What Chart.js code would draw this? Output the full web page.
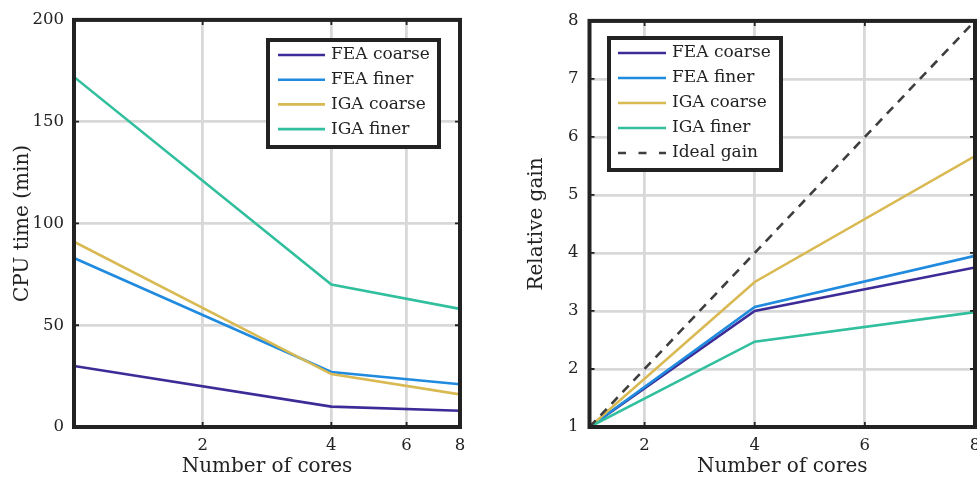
<!DOCTYPE html>
<html><head><meta charset="utf-8">
<script src="https://cdn.jsdelivr.net/npm/chart.js@4.4.1/dist/chart.umd.min.js"></script>
<style>
html,body{margin:0;padding:0;background:#fff;overflow:hidden;width:977px;height:481px;}
#w1{position:absolute;left:0;top:0;width:490px;height:481px;}
#w2{position:absolute;left:490px;top:0;width:510px;height:481px;}
</style></head><body>
<div id="w1"><canvas id="c1"></canvas></div>
<div id="w2"><canvas id="c2"></canvas></div>
<script>
// ---- data ----
const cores = [1, 4, 8];
const cpuFeaCoarse = [30, 10, 8];
const cpuFeaFiner = [83, 27, 21];
const cpuIgaCoarse = [91, 26, 16];
const cpuIgaFiner = [172, 70, 58];
const gainFeaCoarse = [1, 3.0, 3.75];
const gainFeaFiner = [1, 3.07, 3.95];
const gainIgaCoarse = [1, 3.5, 5.67];
const gainIgaFiner = [1, 2.47, 2.98];
const gainIdeal = [1, 4, 8];
const seriesLabels = ['FEA coarse', 'FEA finer', 'IGA coarse', 'IGA finer'];
const idealLabel = 'Ideal gain';
const coreTicks = [2, 4, 6, 8];
const cpuTicks = [0, 50, 100, 150, 200];
const gainTicks = [1, 2, 3, 4, 5, 6, 7, 8];

// ---- styles ----
const colors = ['#3d2b97', '#1f8ade', '#d8b952', '#31bf9e'];
const idealColor = '#3e3e3e';
const ink = '#222222';
const FONT = 'DejaVu Serif';
const gridColor = '#d8d8d8';

function pts(xs, ys) { return xs.map((x, i) => ({x: x, y: ys[i]})); }
function mkDs(label, ys, color, i, n) {
  return {label: label, data: pts(cores, ys), borderColor: color, borderWidth: 2.6,
    pointRadius: 0, tension: 0, fill: false, order: n - i};
}

const axesBox = {
  id: 'axesBox',
  afterDatasetsDraw(chart, args, o) {
    const ctx = chart.ctx;
    const {left, top, right, bottom} = chart.chartArea;
    const xs = chart.scales.x, ys = chart.scales.y;
    ctx.save();
    ctx.strokeStyle = ink; ctx.lineWidth = 1.8;
    const L = 5;
    ctx.beginPath();
    xs.ticks.forEach(t => { const p = xs.getPixelForValue(t.value);
      ctx.moveTo(p, bottom); ctx.lineTo(p, bottom - L); ctx.moveTo(p, top); ctx.lineTo(p, top + L); });
    ys.ticks.forEach(t => { const p = ys.getPixelForValue(t.value);
      ctx.moveTo(left, p); ctx.lineTo(left + L, p); ctx.moveTo(right, p); ctx.lineTo(right - L, p); });
    ctx.stroke();
    ctx.lineWidth = 4;
    ctx.strokeRect(left, top, right - left, bottom - top);
    ctx.restore();
  }
};

const boxLegend = {
  id: 'boxLegend',
  afterDraw(chart, args, o) {
    const ctx = chart.ctx;
    ctx.save();
    ctx.fillStyle = '#fff';
    ctx.fillRect(o.x, o.y, o.w, o.h);
    ctx.strokeStyle = ink; ctx.lineWidth = 4;
    ctx.strokeRect(o.x, o.y, o.w, o.h);
    chart.data.datasets.forEach((ds, i) => {
      const cy = o.y + o.first + i * o.rowH;
      ctx.strokeStyle = ds.borderColor; ctx.lineWidth = ds.borderWidth;
      ctx.setLineDash(ds.legendDash || []);
      ctx.beginPath();
      ctx.moveTo(o.x + o.lineStart, cy); ctx.lineTo(o.x + o.lineStart + o.lineLen, cy);
      ctx.stroke();
      ctx.setLineDash([]);
      ctx.fillStyle = ink;
      ctx.font = '17px "' + FONT + '"';
      ctx.textBaseline = 'middle'; ctx.textAlign = 'left';
      ctx.fillText(ds.label, o.x + o.textStart, cy);
    });
    ctx.restore();
  }
};

function tickFont() { return {family: FONT, size: 16.5}; }
function titleFont() { return {family: FONT, size: 20, lineHeight: 1.2}; }

// ---- left chart: CPU time ----
const n1 = 4;
new Chart(document.getElementById('c1'), {
  type: 'line',
  data: {datasets: [
    mkDs(seriesLabels[0], cpuFeaCoarse, colors[0], 0, n1),
    mkDs(seriesLabels[1], cpuFeaFiner, colors[1], 1, n1),
    mkDs(seriesLabels[2], cpuIgaCoarse, colors[2], 2, n1),
    mkDs(seriesLabels[3], cpuIgaFiner, colors[3], 3, n1)
  ]},
  options: {
    responsive: true, maintainAspectRatio: false, animation: false, devicePixelRatio: 1,
    layout: {padding: {left: 0, top: 18.5, right: 30, bottom: 0}},
    plugins: {legend: {display: false}, tooltip: {enabled: false},
      boxLegend: {x: 268, y: 40, w: 171, h: 107, first: 15, rowH: 24.7, lineStart: 10, lineLen: 47, textStart: 63}},
    scales: {
      x: {type: 'logarithmic', min: 1, max: 8,
        afterBuildTicks: s => { s.ticks = coreTicks.map(v => ({value: v})); },
        afterFit: s => { s.height = 54; },
        ticks: {callback: v => String(v), font: tickFont(), color: ink, padding: 9, maxRotation: 0, autoSkip: false},
        grid: {color: gridColor, lineWidth: 2.8, drawTicks: false},
        border: {display: false},
        title: {display: true, text: 'Number of cores', font: titleFont(), color: ink, padding: {top: 0, bottom: 2}}},
      y: {type: 'linear', min: 0, max: 200,
        afterBuildTicks: s => { s.ticks = cpuTicks.map(v => ({value: v})); },
        afterFit: s => { s.width = 74; },
        ticks: {font: tickFont(), color: ink, padding: 10},
        grid: {color: gridColor, lineWidth: 2.8, drawTicks: false},
        border: {display: false},
        title: {display: true, text: 'CPU time (min)', font: titleFont(), color: ink, padding: {top: 11, bottom: 0}}}
    }
  },
  plugins: [axesBox, boxLegend]
});

// ---- right chart: relative gain ----
const n2 = 5;
const idealDs = {label: idealLabel, data: pts(cores, gainIdeal), borderColor: idealColor, borderWidth: 2.6,
  borderDash: [9, 7], legendDash: [8, 12.5], pointRadius: 0, tension: 0, fill: false, order: 1};
new Chart(document.getElementById('c2'), {
  type: 'line',
  data: {datasets: [
    mkDs(seriesLabels[0], gainFeaCoarse, colors[0], 0, n2),
    mkDs(seriesLabels[1], gainFeaFiner, colors[1], 1, n2),
    mkDs(seriesLabels[2], gainIgaCoarse, colors[2], 2, n2),
    mkDs(seriesLabels[3], gainIgaFiner, colors[3], 3, n2),
    idealDs
  ]},
  options: {
    responsive: true, maintainAspectRatio: false, animation: false, devicePixelRatio: 1,
    layout: {padding: {left: 0, top: 15.5, right: 25, bottom: 0}},
    plugins: {legend: {display: false}, tooltip: {enabled: false},
      boxLegend: {x: 119, y: 38, w: 172, h: 132, first: 15, rowH: 25, lineStart: 9, lineLen: 48, textStart: 63}},
    scales: {
      x: {type: 'linear', min: 1, max: 8,
        afterBuildTicks: s => { s.ticks = coreTicks.map(v => ({value: v})); },
        afterFit: s => { s.height = 54; },
        ticks: {callback: v => String(v), font: tickFont(), color: ink, padding: 9, maxRotation: 0, autoSkip: false},
        grid: {color: gridColor, lineWidth: 2.8, drawTicks: false},
        border: {display: false},
        title: {display: true, text: 'Number of cores', font: titleFont(), color: ink, padding: {top: 0, bottom: 2}}},
      y: {type: 'linear', min: 1, max: 8,
        afterBuildTicks: s => { s.ticks = gainTicks.map(v => ({value: v})); },
        afterFit: s => { s.width = 99.5; },
        ticks: {font: tickFont(), color: ink, padding: 11},
        grid: {color: gridColor, lineWidth: 2.8, drawTicks: false},
        border: {display: false},
        title: {display: true, text: 'Relative gain', font: titleFont(), color: ink, padding: {top: 35, bottom: 0}}}
    }
  },
  plugins: [axesBox, boxLegend]
});
</script>
</body></html>
